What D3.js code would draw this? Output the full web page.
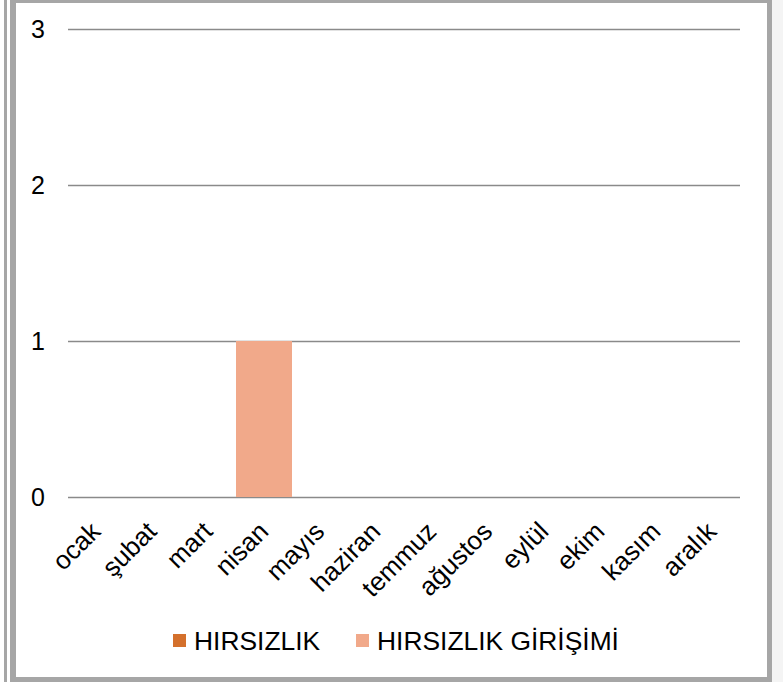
<!DOCTYPE html>
<html>
<head>
<meta charset="utf-8">
<script src="https://cdn.jsdelivr.net/npm/d3@7"></script>
<style>
  body { margin: 0; background: #f4f4f4; }
  svg { display: block; font-family: "Liberation Sans", Arial, sans-serif; }
</style>
</head>
<body>
<div id="chart"></div>
<script>
const months = ["ocak", "şubat", "mart", "nisan", "mayıs", "haziran", "temmuz", "ağustos", "eylül", "ekim", "kasım", "aralık"];
const hirsizlik = [0, 0, 0, 0, 0, 0, 0, 0, 0, 0, 0, 0];
const hirsizlikGirisimi = [0, 0, 0, 1, 0, 0, 0, 0, 0, 0, 0, 0];
const seriesNames = ["HIRSIZLIK", "HIRSIZLIK GİRİŞİMİ"];
const seriesColors = ["#d4702c", "#f1a98a"];
const yTicks = [0, 1, 2, 3];

const width = 783, height = 682;
const plot = {left: 68, right: 740, top: 29, bottom: 497};

const svg = d3.select("#chart").append("svg")
  .attr("width", width)
  .attr("height", height);

// frame
svg.append("rect").attr("x", 0).attr("y", 0).attr("width", width).attr("height", height).attr("fill", "#f4f4f4");
svg.append("rect").attr("x", 0).attr("y", 0).attr("width", 10).attr("height", height).attr("fill", "#ffffff");
svg.append("rect").attr("x", 4).attr("y", 0).attr("width", 3).attr("height", height).attr("fill", "#a6a6a6");
svg.append("rect").attr("x", 10).attr("y", 0).attr("width", 762).attr("height", height).attr("fill", "#a6a6a6");
svg.append("rect").attr("x", 16).attr("y", 3).attr("width", 751).attr("height", 674).attr("fill", "#ffffff");

const table = months.map(function(m, i) {
  return {month: m, "HIRSIZLIK": hirsizlik[i], "HIRSIZLIK GİRİŞİMİ": hirsizlikGirisimi[i]};
});
const stacked = d3.stack().keys(seriesNames)(table);

const x = d3.scaleBand()
  .domain(months)
  .range([plot.left, plot.right])
  .padding(0);

const y = d3.scaleLinear()
  .domain([0, 3])
  .range([plot.bottom, plot.top]);

// gridlines + y labels
const yAxis = svg.append("g")
  .attr("transform", "translate(" + plot.left + ",0)")
  .call(d3.axisLeft(y).tickValues(yTicks).tickSize(-(plot.right - plot.left)).tickPadding(23).tickFormat(d3.format("d")));
yAxis.select(".domain").remove();
yAxis.selectAll(".tick line").attr("stroke", "#8a8a8a").attr("stroke-width", 1.6);
yAxis.selectAll(".tick text")
  .attr("fill", "#000")
  .style("font-size", "25px")
  .style("font-family", "'Liberation Sans', Arial, sans-serif");

// bars
svg.append("g")
  .selectAll("g")
  .data(stacked)
  .enter().append("g")
    .attr("fill", function(d, i) { return seriesColors[i]; })
  .selectAll("rect")
  .data(function(d) { return d; })
  .enter().append("rect")
    .attr("x", function(d) { return x(d.data.month); })
    .attr("width", x.bandwidth())
    .attr("y", function(d) { return y(d[1]); })
    .attr("height", function(d) { return y(d[0]) - y(d[1]); });

// x axis labels
const xAxis = svg.append("g")
  .attr("transform", "translate(0," + plot.bottom + ")")
  .call(d3.axisBottom(x).tickSize(0).tickPadding(0));
xAxis.select(".domain").remove();
xAxis.selectAll(".tick text")
  .attr("y", 0)
  .attr("dy", 0)
  .attr("transform", "translate(6,36)rotate(-45)")
  .style("text-anchor", "end")
  .attr("fill", "#000")
  .style("font-size", "26px")
  .style("font-family", "'Liberation Sans', Arial, sans-serif");

// legend
const legendX = [173, 356];
const legend = svg.append("g")
  .selectAll("g")
  .data(seriesNames)
  .enter().append("g")
    .attr("transform", function(d, i) { return "translate(" + legendX[i] + ",634)"; });
legend.append("rect")
  .attr("width", 13)
  .attr("height", 13)
  .attr("fill", function(d, i) { return seriesColors[i]; });
legend.append("text")
  .attr("x", 21)
  .attr("y", 16)
  .style("font-size", "26.4px")
  .attr("fill", "#000")
  .text(function(d) { return d; });
</script>
</body>
</html>
